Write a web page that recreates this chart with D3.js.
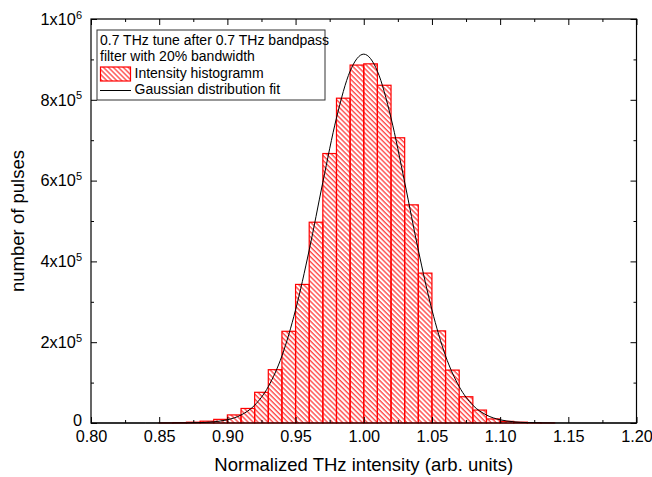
<!DOCTYPE html>
<html lang="en">
<head>
<meta charset="UTF-8">
<title>THz intensity histogram</title>
<script src="https://d3js.org/d3.v7.min.js"></script>
<style>
  body { margin: 0; background: #fff; }
  svg text { font-family: "Liberation Sans", Arial, Helvetica, sans-serif; fill: #000; }
</style>
</head>
<body>
<div id="chart"></div>
<script>
// histogram: left edge of each bin (bin width 0.01) and number of pulses
const binWidth = 0.01;
const binStart = [0.85, 0.86, 0.87, 0.88, 0.89, 0.90, 0.91, 0.92, 0.93, 0.94,
                  0.95, 0.96, 0.97, 0.98, 0.99, 1.00, 1.01, 1.02, 1.03, 1.04,
                  1.05, 1.06, 1.07, 1.08, 1.09, 1.10, 1.11, 1.12, 1.13];
const binCounts = [300, 1000, 2000, 4500, 9000, 20000, 36000, 76000, 132000, 227000,
                   343000, 497000, 667000, 804000, 886000, 889000, 836000, 706000, 540000, 371000,
                   228000, 131000, 65000, 32000, 10000, 4000, 2000, 800, 300];

// gaussian fit curve
const fitX = [0.80, 0.84, 0.86, 0.87, 0.88, 0.89, 0.90, 0.91, 0.92, 0.93, 0.94, 0.95, 0.96, 0.97, 0.98, 0.99,
              1.00, 1.01, 1.02, 1.03, 1.04, 1.05, 1.06, 1.07, 1.08, 1.09, 1.10, 1.11, 1.12, 1.13, 1.14, 1.16, 1.20];
const fitY = [0, 0, 100, 300, 1000, 3000, 8000, 19700, 44000, 90000, 166000, 280000, 428000, 596000, 755000, 871000,
              913000, 871000, 755000, 596000, 428000, 280000, 166000, 90000, 44000, 19700, 8000, 3000, 1000, 300, 100, 0, 0];

const xTicks = [0.80, 0.85, 0.90, 0.95, 1.00, 1.05, 1.10, 1.15, 1.20];
const xMinor = [0.825, 0.875, 0.925, 0.975, 1.025, 1.075, 1.125, 1.175];
const yTicks = [0, 200000, 400000, 600000, 800000, 1000000];
const yMinor = [100000, 300000, 500000, 700000, 900000];
const yTickBase = ["0", "2x10", "4x10", "6x10", "8x10", "1x10"];
const yTickExp = ["", "5", "5", "5", "5", "6"];

const legendTitle = ["0.7 THz tune after 0.7 THz bandpass", "filter with 20% bandwidth"];
const legendItems = ["Intensity histogramm", "Gaussian distribution fit"];

const W = 652, H = 477;
const margin = { top: 19, right: 15.5, bottom: 54, left: 91 };
const w = W - margin.left - margin.right;
const h = H - margin.top - margin.bottom;

const svg = d3.select("#chart").append("svg")
    .attr("width", W)
    .attr("height", H);

// hatch pattern, lines going down to the right
const defs = svg.append("defs");
const pat = defs.append("pattern")
    .attr("id", "hatch")
    .attr("patternUnits", "userSpaceOnUse")
    .attr("width", 3.5)
    .attr("height", 10)
    .attr("patternTransform", "rotate(-45)");
pat.append("line")
    .attr("x1", 1).attr("y1", 0).attr("x2", 1).attr("y2", 10)
    .attr("stroke", "#ff0000")
    .attr("stroke-width", 1);

const g = svg.append("g")
    .attr("transform", "translate(" + margin.left + "," + margin.top + ")");

const x = d3.scaleLinear().domain([0.80, 1.20]).range([0, w]);
const y = d3.scaleLinear().domain([0, 1000000]).range([h, 0]);

// bars
g.selectAll("rect.bar")
    .data(binStart)
    .enter()
    .append("rect")
    .attr("class", "bar")
    .attr("x", d => x(d))
    .attr("width", d => x(d + binWidth) - x(d))
    .attr("y", (d, i) => y(binCounts[i]))
    .attr("height", (d, i) => h - y(binCounts[i]))
    .attr("fill", "url(#hatch)")
    .attr("stroke", "#ff0000")
    .attr("stroke-width", 1.2);

// fit line
const line = d3.line()
    .x(d => x(d[0]))
    .y(d => y(d[1]))
    .curve(d3.curveMonotoneX);
g.append("path")
    .datum(fitX.map((v, i) => [v, fitY[i]]))
    .attr("d", line)
    .attr("fill", "none")
    .attr("stroke", "#000")
    .attr("stroke-width", 1);

// axes with inward ticks
const fontTick = "16.3px";

const xAxis = g.append("g")
    .attr("transform", "translate(0," + h + ")")
    .call(d3.axisBottom(x).tickValues(xTicks).tickSize(-6).tickSizeOuter(0)
        .tickPadding(7).tickFormat(d3.format(".2f")));
xAxis.selectAll("text").style("font-size", fontTick).attr("fill", "#000");

g.append("g")
    .attr("transform", "translate(0," + h + ")")
    .call(d3.axisBottom(x).tickValues(xMinor).tickSize(-3).tickSizeOuter(0).tickFormat(""));

g.append("g")
    .call(d3.axisTop(x).tickValues(xTicks).tickSize(-6).tickSizeOuter(0).tickFormat(""));
g.append("g")
    .call(d3.axisTop(x).tickValues(xMinor).tickSize(-3).tickSizeOuter(0).tickFormat(""));

const yAxis = g.append("g")
    .call(d3.axisLeft(y).tickValues(yTicks).tickSize(-6).tickSizeOuter(0)
        .tickPadding(9).tickFormat(""));
yAxis.selectAll(".tick text").each(function(d, i) {
    const t = d3.select(this).style("font-size", fontTick).attr("fill", "#000");
    if (i === 0) t.attr("y", -3);
    t.append("tspan").text(yTickBase[i]);
    if (yTickExp[i]) {
        t.append("tspan")
            .attr("dy", "-0.55em")
            .style("font-size", "11px")
            .text(yTickExp[i]);
    }
});

g.append("g")
    .call(d3.axisLeft(y).tickValues(yMinor).tickSize(-3).tickSizeOuter(0).tickFormat(""));
g.append("g")
    .attr("transform", "translate(" + w + ",0)")
    .call(d3.axisRight(y).tickValues(yTicks).tickSize(-6).tickSizeOuter(0).tickFormat(""));
g.append("g")
    .attr("transform", "translate(" + w + ",0)")
    .call(d3.axisRight(y).tickValues(yMinor).tickSize(-3).tickSizeOuter(0).tickFormat(""));

g.selectAll(".domain").remove();
g.selectAll(".tick line").attr("stroke", "#000").attr("stroke-width", 1);

// frame
g.append("rect")
    .attr("width", w)
    .attr("height", h)
    .attr("fill", "none")
    .attr("stroke", "#000")
    .attr("stroke-width", 1.2);

// axis titles
svg.append("text")
    .attr("x", margin.left + w / 2)
    .attr("y", 471)
    .attr("text-anchor", "middle")
    .style("font-size", "18.5px")
    .text("Normalized THz intensity (arb. units)");

svg.append("text")
    .attr("transform", "translate(24," + (margin.top + h / 2) + ") rotate(-90)")
    .attr("text-anchor", "middle")
    .style("font-size", "18.5px")
    .text("number of pulses");

// legend
const leg = svg.append("g");
leg.append("rect")
    .attr("x", 97).attr("y", 30)
    .attr("width", 228).attr("height", 70)
    .attr("fill", "#fff")
    .attr("stroke", "#333")
    .attr("stroke-width", 1);

leg.selectAll("text.title")
    .data(legendTitle)
    .enter()
    .append("text")
    .attr("class", "title")
    .attr("x", 100)
    .attr("y", (d, i) => 45 + i * 16.2)
    .style("font-size", "14px")
    .text(d => d);

leg.append("rect")
    .attr("x", 100.5).attr("y", 67)
    .attr("width", 30).attr("height", 14)
    .attr("fill", "url(#hatch)")
    .attr("stroke", "#ff0000")
    .attr("stroke-width", 1.2);

leg.append("line")
    .attr("x1", 100).attr("x2", 131)
    .attr("y1", 90.5).attr("y2", 90.5)
    .attr("stroke", "#000")
    .attr("stroke-width", 1);

leg.selectAll("text.item")
    .data(legendItems)
    .enter()
    .append("text")
    .attr("class", "item")
    .attr("x", 134.5)
    .attr("y", (d, i) => 77.5 + i * 16.5)
    .style("font-size", "14px")
    .text(d => d);
</script>
</body>
</html>
